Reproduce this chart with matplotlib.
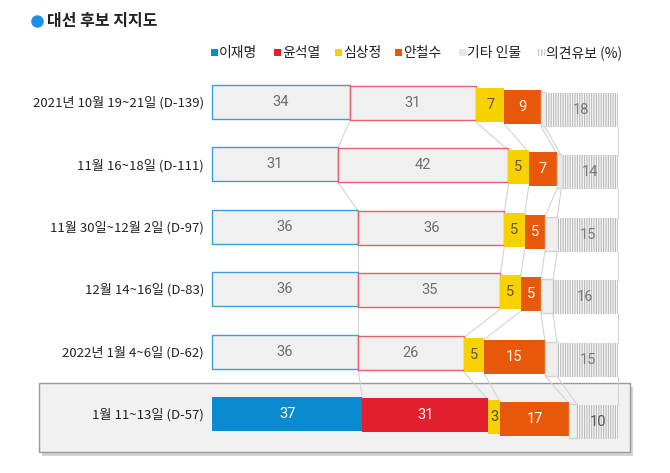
import matplotlib
matplotlib.use("Agg")
import matplotlib.pyplot as plt
from matplotlib.patches import Rectangle
import numpy as np

plt.rcParams['font.family'] = ['Noto Sans CJK KR', 'DejaVu Sans']
plt.rcParams['hatch.linewidth'] = 0.8

# ---------------- data ----------------
dates = ['2021년 10월 19~21일 (D-139)', '11월 16~18일 (D-111)', '11월 30일~12월 2일 (D-97)',
         '12월 14~16일 (D-83)', '2022년 1월 4~6일 (D-62)', '1월 11~13일 (D-57)']
lee = [34, 31, 36, 36, 36, 37]
yoon = [31, 42, 36, 35, 26, 31]
sim = [7, 5, 5, 5, 5, 3]
ahn = [9, 7, 5, 5, 15, 17]
etc = [1, 1, 3, 3, 3, 2]
undecided = [18, 14, 15, 16, 15, 10]
series_names = ['이재명', '윤석열', '심상정', '안철수', '기타 인물', '의견유보 (%)']
title = '대선 후보 지지도'

series = [lee, yoon, sim, ahn, etc, undecided]
show_label = [True, True, True, True, False, True]

# ---------------- layout (pixels) ----------------
W, H = 670, 473
X0, PXU = 212, 4.06           # pixel of 0%, pixels per percent
ROW_TOP0, ROW_STEP = 85, 62.4
BAR_H = 34
SEG_OFF = [0, 1, 3, 5, 7, 8]  # staircase offset per segment

def px2x(p):
    return (p - X0) / PXU

fig = plt.figure(figsize=(W / 100, H / 100), dpi=100)
ax = fig.add_axes([0, 0, 1, 1])
ax.set_xlim(px2x(0), px2x(W))
ax.set_ylim(H, 0)
ax.axis('off')

n = len(dates)
hl = n - 1

# highlight box with shadow
bx0, bx1, by0, by1 = 39, 630, 383, 452
ax.add_patch(Rectangle((px2x(bx0 + 3), by0 + 4), (bx1 - bx0) / PXU, by1 - by0,
                       facecolor='#b8b8b8', edgecolor='none', alpha=0.6, zorder=0))
ax.add_patch(Rectangle((px2x(bx0), by0), (bx1 - bx0) / PXU, by1 - by0,
                       facecolor='#f1f1f1', edgecolor='#9a9a9a', linewidth=1.0, zorder=0.5))

normal_face = ['#f0f0f0', '#f0f0f0', '#f7d100', '#e8580a', '#efefef', '#f7f7f7']
normal_edge = ['#3a9fdb', '#e8606b', 'none', 'none', '#d2d2d2', '#c4c4c4']
hl_face = ['#0a8bcf', '#e31e2d', '#f7d100', '#e8580a', '#efefef', '#f7f7f7']
hl_edge = ['none', 'none', 'none', 'none', '#d2d2d2', '#c4c4c4']
txt_normal = ['#6e6e6e', '#6e6e6e', '#635a30', 'white', '#707070', '#777777']
txt_hl = ['white', 'white', '#4a4a2a', 'white', '#707070', '#555555']

cums = []
for i in range(n):
    vals = [s[i] for s in series]
    lefts = np.concatenate([[0], np.cumsum(vals)[:-1]])
    cums.append(list(lefts) + [sum(vals)])
    top = ROW_TOP0 + i * ROW_STEP
    is_hl = (i == hl)
    for k, v in enumerate(vals):
        y = top + SEG_OFF[k] + BAR_H / 2
        face = (hl_face if is_hl else normal_face)[k]
        edge = (hl_edge if is_hl else normal_edge)[k]
        if k == 5:
            ax.barh(y, v, left=lefts[k], height=BAR_H, facecolor=face,
                    edgecolor='#b9b9b9', hatch='|' * 7, linewidth=0, zorder=2)
        else:
            ax.barh(y, v, left=lefts[k], height=BAR_H, facecolor=face,
                    edgecolor=edge, linewidth=1.0 if edge != 'none' else 0, zorder=2)
        if show_label[k]:
            col = (txt_hl if is_hl else txt_normal)[k]
            ax.text(lefts[k] + v / 2, y, str(v), ha='center', va='center',
                    fontsize=10.5, color=col, zorder=4, family=['Roboto', 'DejaVu Sans'])
    ax.text(px2x(204), top + BAR_H / 2 + 1, dates[i], ha='right', va='center',
            fontsize=9.5, color='#222222', zorder=4)

# connectors between rows
for i in range(n - 1):
    top_a = ROW_TOP0 + i * ROW_STEP
    top_b = ROW_TOP0 + (i + 1) * ROW_STEP
    for k in range(1, 7):
        off = SEG_OFF[min(k, 5)]
        xa = cums[i][k]
        xb = cums[i + 1][k]
        ax.plot([xa, xb], [top_a + off + BAR_H, top_b + off], color='#d3d3d3',
                linewidth=0.8, zorder=1)

# title
ax.plot([px2x(37)], [21], marker='o', markersize=9, color='#1b90e6',
        markeredgewidth=0, zorder=5)
ax.text(px2x(47), 21, title, ha='left', va='center', fontsize=11.5,
        fontweight='bold', color='#222222')

# legend
leg_x = [211, 274, 335, 395, 459, 538]
leg_y = 53
sq = 7
for k, name in enumerate(series_names):
    face = hl_face[k] if k < 4 else ('#e6e6e6' if k == 4 else '#f7f7f7')
    if k == 5:
        ax.add_patch(Rectangle((px2x(leg_x[k]), leg_y - sq / 2), sq / PXU, sq,
                               facecolor=face, edgecolor='#bdbdbd', hatch='|||||',
                               linewidth=0))
    else:
        ax.add_patch(Rectangle((px2x(leg_x[k]), leg_y - sq / 2), sq / PXU, sq,
                               facecolor=face, edgecolor='none'))
    ax.text(px2x(leg_x[k] + sq + 1), leg_y, name, ha='left', va='center',
            fontsize=10, color='#222222')

fig.savefig('out.png', dpi=100)
